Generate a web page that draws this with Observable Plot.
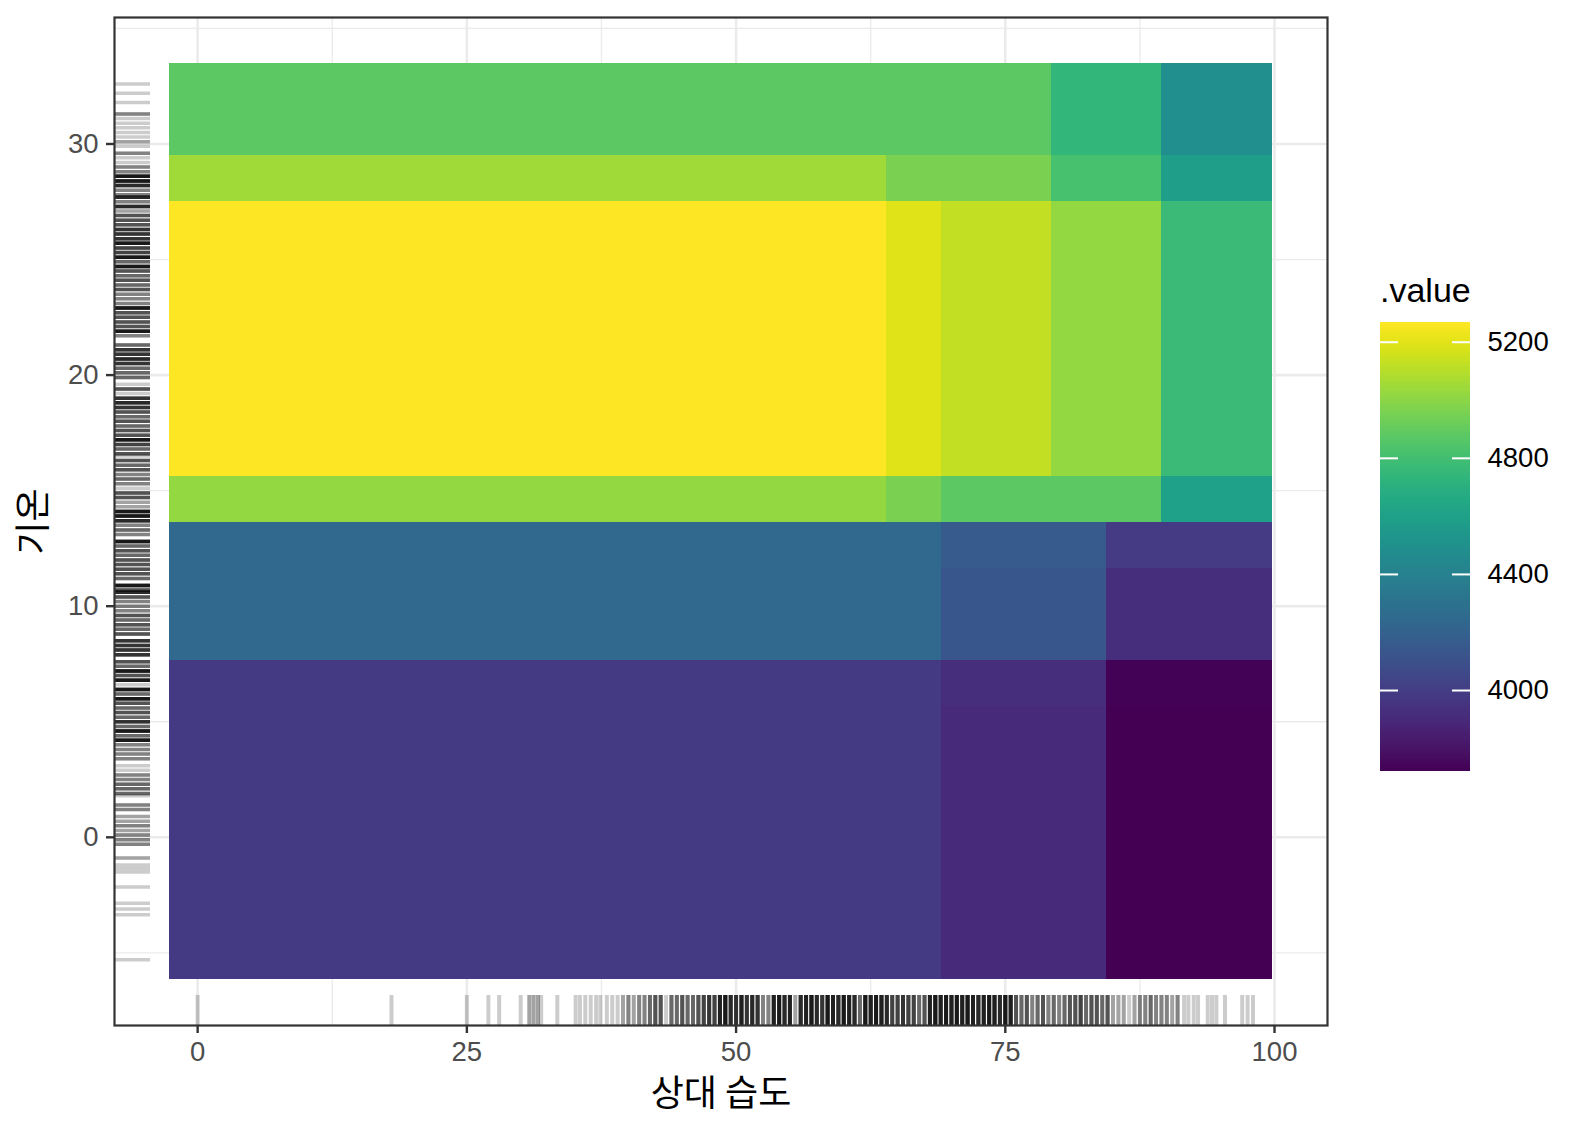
<!DOCTYPE html>
<html><head><meta charset="utf-8">
<script src="https://cdn.jsdelivr.net/npm/d3@7"></script>
<script src="https://cdn.jsdelivr.net/npm/@observablehq/plot@0.6"></script>
<style>
body{margin:0;background:#fff;}
#wrap{position:relative;width:1584px;height:1140px;font-family:"Liberation Sans",Arial,"Noto Sans CJK KR",sans-serif;}
#main{position:absolute;left:0;top:0;}
#legend{position:absolute;left:1380px;top:0;}
#ltitle{position:absolute;left:1380px;top:273px;font-size:34px;line-height:1;color:#000;}
</style></head><body>
<div id="wrap"><div id="main"></div><div id="legend"></div><div id="ltitle">.value</div></div>
<script>
// Tile edges (상대 습도 / 기온) and partial-dependence values, rows bottom -> top
const humidityBreaks = [-2.6, 64.0, 69.05, 79.3, 84.4, 89.55, 99.8];
const temperatureBreaks = [-6.16, 5.65, 7.63, 11.64, 13.62, 15.6, 27.52, 29.51, 33.49];
const pdpRow1 = [3986, 3986, 3908, 3908, 3721, 3721];
const pdpRow2 = [3986, 3986, 3925, 3925, 3732, 3732];
const pdpRow3 = [4236, 4236, 4135, 4135, 3924, 3924];
const pdpRow4 = [4236, 4236, 4162, 4162, 3990, 3990];
const pdpRow5 = [5018, 4955, 4877, 4877, 4877, 4596];
const pdpRow6 = [5268, 5190, 5127, 5018, 5018, 4768];
const pdpRow7 = [5049, 4955, 4955, 4815, 4815, 4580];
const pdpRow8 = [4877, 4877, 4877, 4737, 4737, 4487];
const pdpRows = [pdpRow1, pdpRow2, pdpRow3, pdpRow4, pdpRow5, pdpRow6, pdpRow7, pdpRow8];

// Rug observations (value, number of overlapping observations)
const humidityRug = [0,18,25,27,28,30,30.8,31.2,31.6,31.9,
 33.4,35.1,35.5,36,36.5,37,37.4,38,38.5,39,
 39.5,40,40.5,41,41.5,42,42.5,43,43.5,44,
 44.5,45,45.5,46,46.5,47,47.5,48,48.5,49,
 49.5,50,50.5,51,51.5,52,52.5,53,53.5,54,
 54.5,55,55.5,56,56.5,57,57.5,58,58.5,59,
 59.5,60,60.5,61,61.5,62,62.5,63,63.5,64,
 64.5,65,65.5,66,66.5,67,67.5,68,68.5,69,
 69.5,70,70.5,71,71.5,72,72.5,73,73.5,74,
 74.5,75,75.5,76,76.5,77,77.5,78,78.5,79,
 79.5,80,80.5,81,81.5,82,82.5,83,83.5,84,
 84.5,85,85.5,86,86.5,87,87.5,88,88.5,89,
 89.5,90,90.5,91,91.6,92,92.5,92.9,93.8,94.2,
 94.6,95.4,97,97.5,98];
const humidityRugCount = [1,1,1,1,1,1,2,2,2,1,
 1,1,1,1,1,1,1,1,1,1,
 2,3,2,3,3,4,5,5,1,4,
 4,5,4,4,5,6,7,6,9,10,
 8,7,9,7,8,7,3,3,9,10,
 8,9,2,8,9,10,8,7,10,9,
 8,10,9,8,4,10,9,10,9,8,
 6,6,7,6,6,4,5,9,10,9,
 10,9,10,9,10,9,8,9,10,9,
 8,10,9,5,4,5,3,4,5,3,
 4,3,4,5,5,6,4,5,5,4,
 5,2,2,2,1,2,3,3,4,3,
 3,3,2,3,1,1,1,1,1,1,
 1,1,1,1,1];
const temperatureRug = [32.6,32.2,31.8,31.3,31.1,30.9,30.7,30.5,30.3,30.1,
 29.9,29.6,29.4,29.2,29.0,28.8,28.6,28.4,28.2,28.0,
 27.8,27.7,27.5,27.3,27.1,26.9,26.7,26.5,26.3,26.1,
 25.9,25.7,25.5,25.3,25.1,24.9,24.7,24.5,24.3,24.1,
 23.9,23.7,23.5,23.3,23.1,22.9,22.7,22.5,22.3,22.1,
 21.9,21.7,21.3,21.1,20.9,20.7,20.5,20.3,20.1,19.9,
 19.6,19.4,19.2,19.0,18.8,18.6,18.4,18.2,18.0,17.8,
 17.6,17.4,17.2,17.0,16.8,16.6,16.5,16.3,16.1,15.9,
 15.7,15.5,15.3,15.1,14.9,14.7,14.5,14.3,14.1,13.9,
 13.7,13.5,13.3,13.1,12.8,12.6,12.4,12.2,12.0,11.8,
 11.6,11.4,11.2,10.9,10.7,10.6,10.4,10.2,10.0,9.8,
 9.6,9.4,9.2,9.0,8.8,8.5,8.3,8.1,7.9,7.6,
 7.4,7.2,7.0,6.8,6.6,6.4,6.2,6.0,5.8,5.6,
 5.4,5.2,5.0,4.8,4.6,4.4,4.2,4.0,3.8,3.6,
 3.4,3.1,2.9,2.7,2.5,2.3,2.1,1.9,1.8,1.4,
 1.2,0.9,0.7,0.5,0.3,0.1,-0.1,-0.3,-0.9,-1.2,
 -1.35,-1.5,-2.15,-2.85,-3.1,-3.35,-5.3];
const temperatureRugCount = [1,1,1,3,1,1,1,1,1,2,
 1,3,1,1,3,3,10,10,8,3,
 3,8,3,8,2,5,5,5,7,7,
 7,10,6,6,10,4,10,5,4,5,
 4,5,3,3,3,10,5,5,5,5,
 10,3,4,7,7,8,7,4,4,4,
 1,5,1,7,8,7,5,4,5,4,
 5,5,10,6,4,5,1,5,4,5,
 3,4,3,1,5,5,2,2,10,10,
 8,3,4,3,10,4,5,4,5,5,
 5,5,4,10,5,8,5,3,3,3,
 5,4,5,4,5,7,7,7,7,5,
 4,10,5,10,1,10,4,10,5,4,
 5,4,7,4,10,4,10,3,3,3,
 3,1,1,3,3,4,4,4,1,3,
 3,2,2,3,2,3,3,3,2,1,
 1,1,1,1,1,1,1];

// Ticks
const xTicks = [0, 25, 50, 75, 100];
const xMinor = [12.5, 37.5, 62.5, 87.5];
const yTicks = [0, 10, 20, 30];
const yMinor = [-5, 5, 15, 25, 35];
const legendTicks = [4000, 4400, 4800, 5200];

const xLabel = "상대 습도";
const yLabel = "기온";

// ---- build
const tiles = [];
pdpRows.forEach((row, i) => row.forEach((v, j) => tiles.push({
  x1: humidityBreaks[j], x2: humidityBreaks[j + 1],
  y1: temperatureBreaks[i], y2: temperatureBreaks[i + 1], value: v
})));
const expand = e => { const d = (e[1] - e[0]) * 0.05; return [e[0] - d, e[1] + d]; };
const xDomain = expand(d3.extent(humidityBreaks));
const yDomain = expand(d3.extent(temperatureBreaks));
const vExtent = d3.extent(tiles, d => d.value);

const hRug = humidityRug.flatMap((v, i) => Array(humidityRugCount[i] || 1).fill(v));
const tRug = temperatureRug.flatMap((v, i) => Array(temperatureRugCount[i] || 1).fill(v));

const W = 1584, H = 1140, mL = 114, mR = 257, mT = 17, mB = 115;
const panelW = W - mL - mR, panelH = H - mT - mB;
const font = '"Liberation Sans", Arial, "Noto Sans CJK KR", sans-serif';
const kfont = '"Noto Sans CJK KR", sans-serif';

const main = Plot.plot({
  width: W, height: H,
  marginLeft: mL, marginRight: mR, marginTop: mT, marginBottom: mB,
  style: {fontFamily: font, fontSize: "27px", background: "white", overflow: "visible"},
  x: {domain: xDomain},
  y: {domain: yDomain},
  color: {type: "linear", scheme: "viridis", domain: vExtent},
  marks: [
    Plot.ruleX(xMinor, {stroke: "#ebebeb", strokeWidth: 1.3}),
    Plot.ruleY(yMinor, {stroke: "#ebebeb", strokeWidth: 1.3}),
    Plot.ruleX(xTicks, {stroke: "#ebebeb", strokeWidth: 2.6}),
    Plot.ruleY(yTicks, {stroke: "#ebebeb", strokeWidth: 2.6}),
    Plot.rect(tiles, {x1: "x1", x2: "x2", y1: "y1", y2: "y2", fill: "value", shapeRendering: "crispEdges"}),
    Plot.tickX(hRug, {x: d => d, stroke: "black", strokeOpacity: 0.2, strokeWidth: 4, insetTop: panelH - 30}),
    Plot.tickY(tRug, {y: d => d, stroke: "black", strokeOpacity: 0.2, strokeWidth: 3.5, insetRight: panelW - 36}),
    Plot.frame({stroke: "#333333", strokeWidth: 2.2}),
    Plot.axisX({ticks: xTicks, tickSize: 8, tickPadding: 8, stroke: "#333333", strokeWidth: 2.4, fill: "#4d4d4d", fontSize: 27.5, label: null}),
    Plot.axisY({ticks: yTicks, tickSize: 8, tickPadding: 8, stroke: "#333333", strokeWidth: 2.4, fill: "#4d4d4d", fontSize: 27.5, label: null}),
    Plot.text([xLabel], {text: d => d, frameAnchor: "bottom", dy: 69, lineAnchor: "middle", fontSize: 36, fontFamily: kfont, fill: "black"}),
    Plot.text([yLabel], {text: d => d, frameAnchor: "left", dx: -80, rotate: -90, lineAnchor: "middle", textAnchor: "middle", fontSize: 36, fontFamily: kfont, fill: "black"})
  ]
});
document.getElementById("main").appendChild(main);

// ---- vertical colour bar
const nSteps = 300;
const stepV = (vExtent[1] - vExtent[0]) / nSteps;
const steps = d3.range(nSteps).map(i => vExtent[0] + i * stepV);
const legend = Plot.plot({
  width: 204, height: H,
  marginLeft: 0, marginRight: 114, marginTop: 322, marginBottom: 369,
  style: {fontFamily: font, fontSize: "27px", background: "transparent", overflow: "visible"},
  x: {domain: [0, 1], axis: null},
  y: {domain: vExtent},
  color: {type: "linear", scheme: "viridis", domain: vExtent},
  marks: [
    Plot.rect(steps, {x1: 0, x2: 1, y1: d => d, y2: d => d + stepV, fill: d => d + stepV / 2, shapeRendering: "crispEdges"}),
    Plot.ruleY(legendTicks, {x1: 0, x2: 0.2, stroke: "white", strokeWidth: 2}),
    Plot.ruleY(legendTicks, {x1: 0.8, x2: 1, stroke: "white", strokeWidth: 2}),
    Plot.axisY({anchor: "right", ticks: legendTicks, tickSize: 0, tickPadding: 17, tickFormat: d3.format("d"), fill: "black", fontSize: 27.5, label: null})
  ]
});
document.getElementById("legend").appendChild(legend);
</script>
</body></html>
